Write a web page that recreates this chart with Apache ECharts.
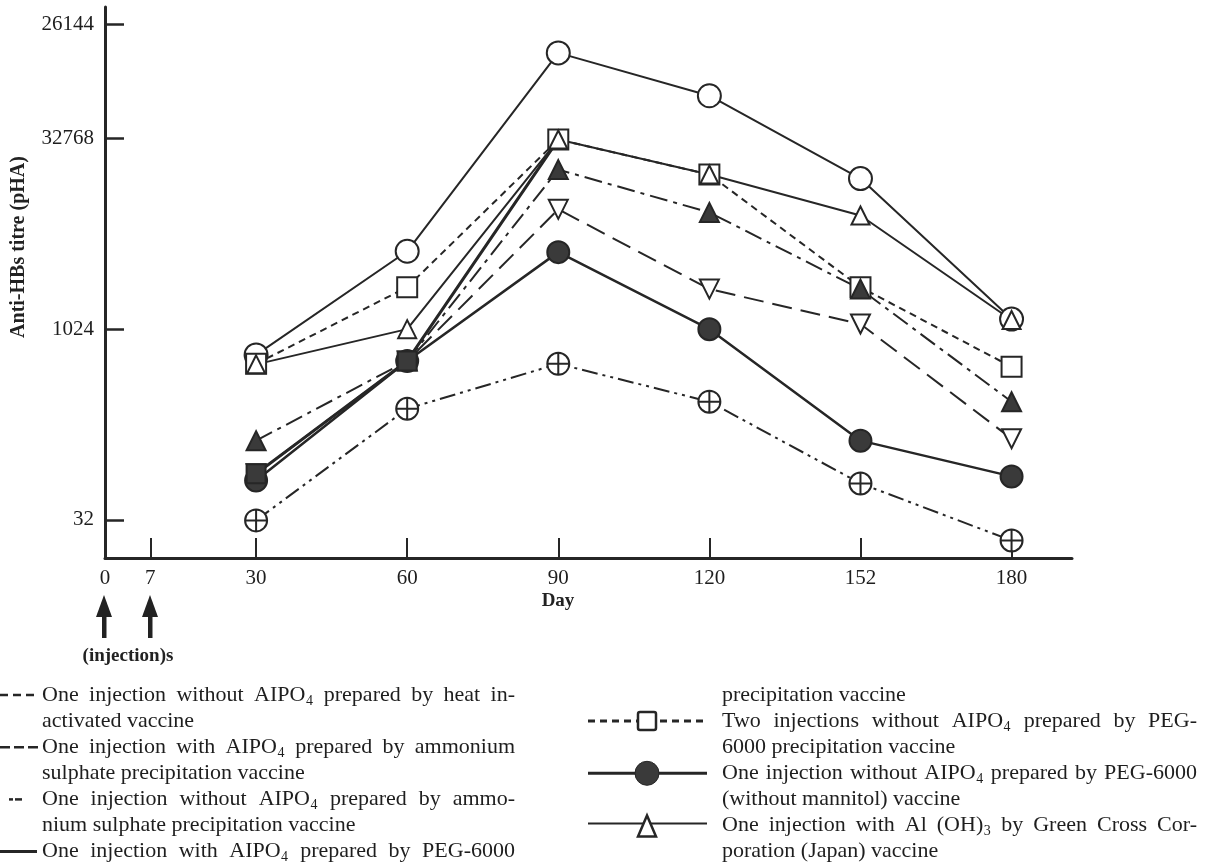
<!DOCTYPE html>
<html><head><meta charset="utf-8">
<script src="https://cdn.jsdelivr.net/npm/echarts@6/dist/echarts.min.js"></script>
<style>html,body{margin:0;padding:0;background:#fff}#c{width:1206px;height:863px}</style>
</head><body><div id="c"></div><script>
// ---------- data ----------
const days = ['30', '60', '90', '120', '152', '180'];
const tickDays = ['0', '7', '30', '60', '90', '120', '152', '180'];
const yTickValues = [32, 1024, 32768, 262144];
const yTickLabels = ['32', '1024', '32768', '26144'];

const openCircle     = [641, 4215, 155000, 71200, 15800, 1230];
const openSquare     = [545, 2195, 32100, 17000, 2195, 516];
const invTriangle    = [74, 575, 9030, 2120, 1123, 140];
const filledTriangle = [135, 575, 18600, 8540, 2120, 274];
const filledCircle   = [65.5, 575, 4150, 1024, 135, 70.5];
const filledSquare   = [74, 575, 32100, null, null, null];
const crossCircle    = [31.7, 241, 545, 274, 62, 22];
const openTriangle   = [540, 1024, 32100, 17000, 8080, 1210];

const legendLeft = [
  'One injection without AIPO_4 prepared by heat in-',
  'activated vaccine',
  'One injection with AIPO_4 prepared by ammonium',
  'sulphate precipitation vaccine',
  'One injection without AIPO_4 prepared by ammo-',
  'nium sulphate precipitation vaccine',
  'One injection with AIPO_4 prepared by PEG-6000'
];
const legendRight = [
  'precipitation vaccine',
  'Two injections without AIPO_4 prepared by PEG-',
  '6000 precipitation vaccine',
  'One injection without AIPO_4 prepared by PEG-6000',
  '(without mannitol) vaccine',
  'One injection with Al (OH)_3 by Green Cross Cor-',
  'poration (Japan) vaccine'
];
const leftJustify = [true, false, true, false, true, false, true];
const rightJustify = [false, true, false, true, false, true, false];

// ---------- layout ----------
const SLOTS = 65;
const slotOf = {'0': 0, '7': 3, '30': 10, '60': 20, '90': 30, '120': 40, '152': 50, '180': 60};
const categories = [];
for (let i = 0; i < SLOTS; i++) categories.push('_' + i);
tickDays.forEach(d => { categories[slotOf[d]] = d; });
const isTick = v => v.charAt(0) !== '_';

const INK = '#262626';
const SERIF = '"Liberation Serif", "Times New Roman", serif';

function toData(arr, hideIdx) {
  const out = [];
  days.forEach((d, i) => {
    if (arr[i] == null) return;
    if (hideIdx === i) out.push({value: [slotOf[d], arr[i]], symbol: 'none'});
    else out.push([slotOf[d], arr[i]]);
  });
  return out;
}
const crossPath = 'path://M10,0A10,10,0,1,1,10,20A10,10,0,1,1,10,0ZM0,10L20,10M10,0L10,20';

function mk(name, arr, symbol, size, filled, dash, width, rotate, hideIdx) {
  return {
    name, type: 'line', data: toData(arr, hideIdx), symbol, symbolSize: size,
    symbolRotate: rotate || 0, showSymbol: true, showAllSymbol: true,
    lineStyle: {color: INK, width: width || 2, type: dash || 'solid'},
    itemStyle: {color: filled ? '#3a3a3a' : '#ffffff', borderColor: INK, borderWidth: 2},
    emphasis: {disabled: true}, animation: false, z: 3
  };
}

const series = [
  mk('c', openCircle, 'circle', 23, false, 'solid'),
  mk('s', openSquare, 'rect', 20, false, [7, 5]),
  mk('it', invTriangle, 'triangle', 19, false, [20, 9], 2, 180),
  mk('ft', filledTriangle, 'triangle', 19, true, [18, 6, 4, 6]),
  mk('fc', filledCircle, 'circle', 22, true, 'solid', 2.5),
  mk('fs', filledSquare, 'rect', 19, true, 'solid', 3, 0, 2),
  mk('x', crossCircle, crossPath, 22, false, [16, 5, 3, 5, 3, 5]),
  mk('t', openTriangle, 'triangle', 18, false, 'solid')
];

// ---------- legend / annotations ----------
const ctx = document.createElement('canvas').getContext('2d');
function measure(str, size) { ctx.font = size + 'px "Liberation Serif"'; return ctx.measureText(str).width; }
const FS = 22, SUB = 14;
function wordInfo(w) {
  const p = w.split('_');
  const main = p[0], sub = p[1] || '';
  const mw = measure(main, FS), sw = sub ? measure(sub, SUB) + 1 : 0;
  return {main, sub, mw, width: mw + sw};
}
function txt(x, y, text, size) {
  return {type: 'text', x, y, silent: true,
    style: {text, font: size + 'px ' + SERIF, fill: '#1e1e1e', verticalAlign: 'middle', align: 'left'}};
}
function lineEls(str, x0, x1, y, justify) {
  const words = str.split(' ').map(wordInfo);
  const total = words.reduce((a, w) => a + w.width, 0);
  const gap = justify ? (x1 - x0 - total) / (words.length - 1) : measure(' ', FS);
  const els = [];
  let x = x0;
  words.forEach(w => {
    els.push(txt(x, y, w.main, FS));
    if (w.sub) els.push(txt(x + w.mw + 0.5, y + 6, w.sub, SUB));
    x += w.width + gap;
  });
  return els;
}

const graphics = [];
const rowY = i => 695 + i * 26.1;
legendLeft.forEach((s, i) => graphics.push(...lineEls(s, 42, 515, rowY(i), leftJustify[i])));
legendRight.forEach((s, i) => graphics.push(...lineEls(s, 722, 1197, rowY(i), rightJustify[i])));

function seg(x1, y1, x2, y2, w, dash) {
  return {type: 'line', silent: true, shape: {x1, y1, x2, y2},
    style: {stroke: INK, lineWidth: w, lineDash: dash || null}};
}
// left column samples (cropped in original)
graphics.push(seg(0, rowY(0), 37, rowY(0), 2.5, [8, 5]));
graphics.push(seg(0, rowY(2), 39, rowY(2), 2.5, [10, 4]));
graphics.push(seg(9, rowY(4), 13, rowY(4), 2.5));
graphics.push(seg(15, rowY(4), 22, rowY(4), 2.5));
graphics.push(seg(0, rowY(6), 37, rowY(6), 3));
// right column samples
graphics.push(seg(588, rowY(1), 705, rowY(1), 3, [7, 5]));
graphics.push({type: 'rect', silent: true, shape: {x: 638, y: rowY(1) - 9, width: 18, height: 18, r: 2},
  style: {fill: '#fff', stroke: INK, lineWidth: 2.5}});
graphics.push(seg(588, rowY(3), 707, rowY(3), 3));
graphics.push({type: 'circle', silent: true, shape: {cx: 647, cy: rowY(3), r: 12},
  style: {fill: '#3a3a3a', stroke: INK, lineWidth: 1}});
graphics.push(seg(588, rowY(5) - 2, 707, rowY(5) - 2, 2));
graphics.push({type: 'polygon', silent: true, shape: {points: [[647, rowY(5) - 10], [638, rowY(5) + 11], [656, rowY(5) + 11]]},
  style: {fill: '#fff', stroke: INK, lineWidth: 2.5}});

// injection arrows
[104, 150].forEach(x => {
  graphics.push({type: 'polygon', silent: true, shape: {points: [[x, 595], [x - 8, 617], [x + 8, 617]]}, style: {fill: '#222'}});
  graphics.push({type: 'rect', silent: true, shape: {x: x - 2, y: 612, width: 4.5, height: 26}, style: {fill: '#222'}});
});
graphics.push({type: 'text', x: 128, y: 656, silent: true,
  style: {text: '(injection)s', font: 'bold 19px ' + SERIF, fill: '#222', align: 'center', verticalAlign: 'middle'}});
graphics.push({type: 'text', x: 558, y: 601, silent: true,
  style: {text: 'Day', font: 'bold 19px ' + SERIF, fill: '#222', align: 'center', verticalAlign: 'middle'}});
graphics.push({type: 'text', x: 19, y: 247, rotation: Math.PI / 2, silent: true,
  style: {text: 'Anti-HBs titre (pHA)', font: 'bold 20px ' + SERIF, fill: '#222', align: 'center', verticalAlign: 'middle'}});

const option = {
  backgroundColor: '#ffffff',
  animation: false,
  grid: {left: 105, right: 134, top: 7, bottom: 305, containLabel: false},
  xAxis: {
    type: 'category', data: categories, boundaryGap: false,
    axisLine: {show: true, lineStyle: {color: INK, width: 3}},
    axisTick: {show: true, inside: true, length: 20, alignWithLabel: true,
      interval: (i, v) => isTick(v) && i !== 0, lineStyle: {color: INK, width: 2}},
    axisLabel: {interval: (i, v) => isTick(v), formatter: v => isTick(v) ? v : '',
      fontFamily: SERIF, fontSize: 21, color: '#1e1e1e', margin: 10},
    splitLine: {show: false}
  },
  yAxis: {
    type: 'log', logBase: 2, min: 16, max: 357000,
    axisLine: {show: true, lineStyle: {color: INK, width: 3}},
    axisTick: {show: true, inside: true, length: 19, customValues: yTickValues, lineStyle: {color: INK, width: 2.5}},
    axisLabel: {customValues: yTickValues, fontFamily: SERIF, fontSize: 21, color: '#1e1e1e', margin: 11,
      formatter: v => { const k = yTickValues.indexOf(Math.round(v)); return k >= 0 ? yTickLabels[k] : ''; }},
    splitLine: {show: false}, minorTick: {show: false}
  },
  series,
  graphic: {elements: graphics}
};
const chart = echarts.init(document.getElementById('c'));
chart.setOption(option);
</script></body></html>
